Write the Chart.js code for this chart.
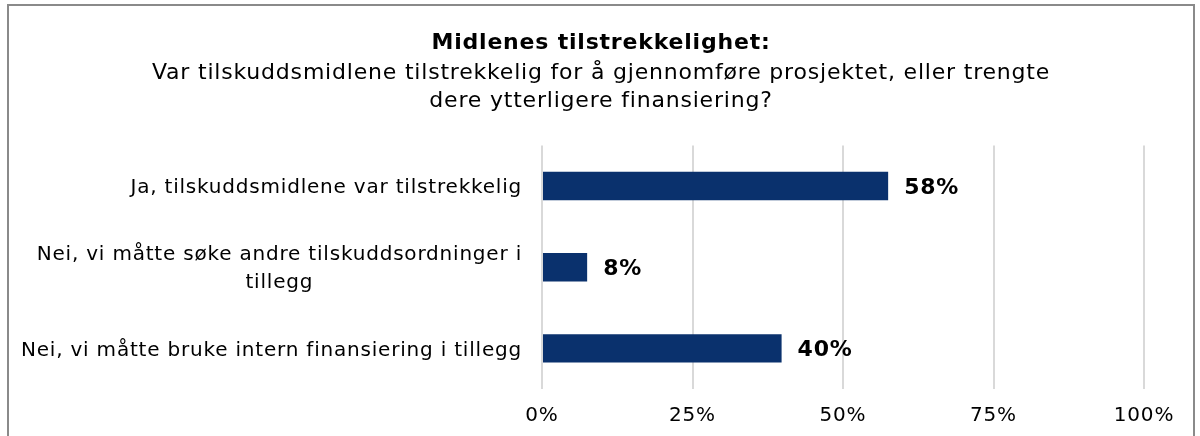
<!DOCTYPE html>
<html>
<head>
<meta charset="utf-8">
<script src="https://cdn.jsdelivr.net/npm/chart.js@4/dist/chart.umd.min.js"></script>
<style>
  html, body { margin: 0; padding: 0; background: #fff; overflow: hidden; }
  #box {
    position: absolute; left: 7px; top: 4px;
    width: 1184px; height: 470px;
    border: 2px solid #8a8a8a; background: #fff;
  }
</style>
</head>
<body>
<div id="box"><canvas id="myChart" width="1184" height="470"></canvas></div>
<script>
const categories = [
  'Ja, tilskuddsmidlene var tilstrekkelig',
  ['Nei, vi måtte søke andre tilskuddsordninger i', 'tillegg'],
  'Nei, vi måtte bruke intern finansiering i tillegg'
]
const shares = [57.5, 7.5, 39.8]
const xTicks = [0, 25, 50, 75, 100]

const FONT = '"DejaVu Sans", Verdana, sans-serif'
const SPACING = '0.8px' // DejaVu is a bit narrower than the Verdana in the original
const barColor = '#0a316d'

const spacingPlugin = {
  id: 'spacing',
  afterInit (chart) { chart.ctx.letterSpacing = SPACING },
  beforeUpdate (chart) { chart.ctx.letterSpacing = SPACING },
  beforeDraw (chart) { chart.ctx.letterSpacing = SPACING }
}

// y labels: wrapped lines are centred inside a right-aligned block
const yLabelPlugin = {
  id: 'yLabels',
  afterDraw (chart) {
    const scale = chart.scales.y
    const ctx = chart.ctx
    ctx.save()
    ctx.font = '20px ' + FONT
    ctx.fillStyle = '#000'
    ctx.textAlign = 'center'
    ctx.textBaseline = 'middle'
    const lh = 28
    categories.forEach((lab, i) => {
      const lines = Array.isArray(lab) ? lab : [lab]
      const w = Math.max(...lines.map(l => ctx.measureText(l).width))
      const cx = scale.right - 20 - w / 2
      const cy = scale.getPixelForValue(i) + 2
      lines.forEach((l, j) => {
        ctx.fillText(l, cx, cy + (j - (lines.length - 1) / 2) * lh)
      })
    })
    ctx.restore()
  }
}

const valueLabelPlugin = {
  id: 'valueLabels',
  afterDatasetsDraw (chart) {
    const ctx = chart.ctx
    const meta = chart.getDatasetMeta(0)
    ctx.save()
    ctx.font = 'bold 22px ' + FONT
    ctx.fillStyle = '#000'
    ctx.textAlign = 'left'
    ctx.textBaseline = 'middle'
    meta.data.forEach((bar, i) => {
      ctx.fillText(Math.round(shares[i]) + '%', bar.x + 16, bar.y + 2)
    })
    ctx.restore()
  }
}

const myChart = new Chart(document.getElementById('myChart'), {
  type: 'bar',
  data: {
    labels: categories,
    datasets: [{
      data: shares,
      backgroundColor: barColor,
      borderWidth: 0,
      barPercentage: 0.7,
      categoryPercentage: 0.5
    }]
  },
  plugins: [spacingPlugin, yLabelPlugin, valueLabelPlugin],
  options: {
    indexAxis: 'y',
    responsive: false,
    animation: false,
    // equal side padding keeps the titles centred on the frame
    layout: { padding: { left: 49, right: 49, top: 0, bottom: 33 } },
    plugins: {
      legend: { display: false },
      tooltip: { enabled: false },
      title: {
        display: true,
        text: 'Midlenes tilstrekkelighet:',
        color: '#000',
        font: { family: FONT, size: 22, weight: 'bold', lineHeight: 1.2 },
        padding: { top: 24, bottom: 3 }
      },
      subtitle: {
        display: true,
        text: ['Var tilskuddsmidlene tilstrekkelig for å gjennomføre prosjektet, eller trengte', 'dere ytterligere finansiering?'],
        color: '#000',
        font: { family: FONT, size: 22, lineHeight: 28 / 22 },
        padding: { top: 0, bottom: 30 }
      }
    },
    scales: {
      x: {
        min: 0,
        max: 100,
        afterBuildTicks (scale) {
          scale.ticks = xTicks.map(v => ({ value: v }))
        },
        grid: { color: '#d9d9d9', lineWidth: 2, drawTicks: false },
        border: { display: false },
        ticks: {
          color: '#000',
          padding: 15,
          font: { family: FONT, size: 20 },
          callback: v => v + '%'
        }
      },
      y: {
        grid: { display: false },
        border: { display: false },
        ticks: { color: 'rgba(0,0,0,0)', font: { family: FONT, size: 20 } },
        afterFit (scale) { scale.width = 484 }
      }
    }
  }
})
</script>
</body>
</html>
